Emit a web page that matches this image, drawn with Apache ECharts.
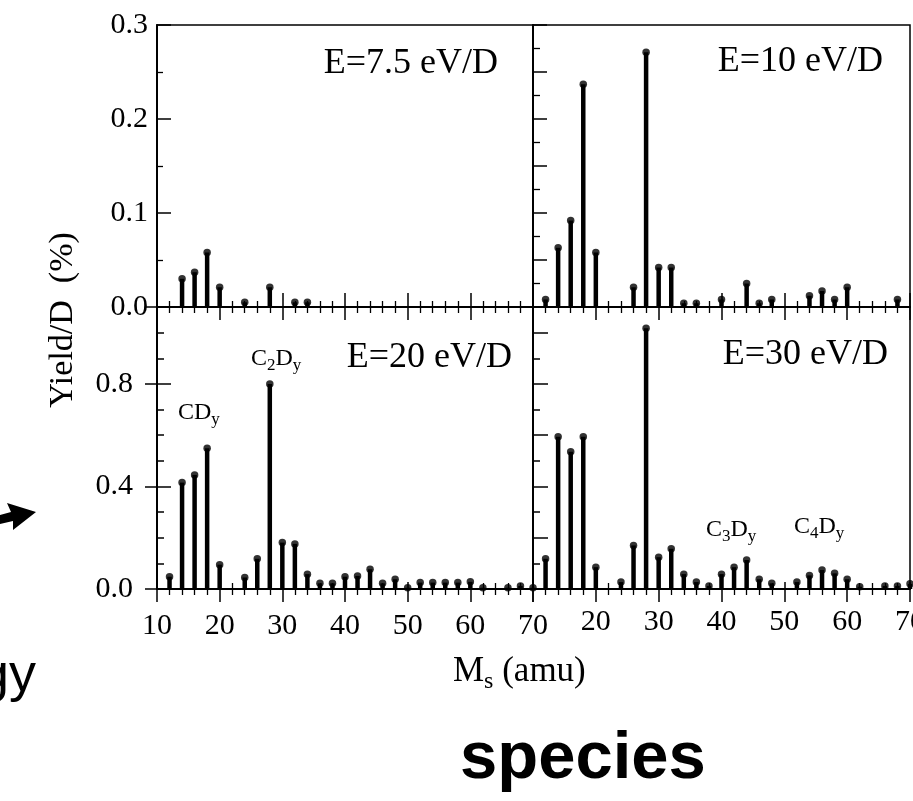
<!DOCTYPE html>
<html>
<head>
<meta charset="utf-8">
<script src="https://cdn.jsdelivr.net/npm/echarts@6/dist/echarts.min.js"></script>
<style>
html, body { margin: 0; padding: 0; background: #fff; }
#chart { width: 913px; height: 801px; }
</style>
</head>
<body>
<div id="chart"></div>
<script>
// mass of sputtered species (amu) and yield per D (%), one pair per panel
var massTL = [14, 16, 18, 20, 24, 28, 32, 34];
var yieldTL = [0.030, 0.037, 0.058, 0.021, 0.005, 0.021, 0.005, 0.005];

var massTR = [12, 14, 16, 18, 20, 26, 28, 30, 32, 34, 36, 40, 44, 46, 48, 54, 56, 58, 60, 68];
var yieldTR = [0.008, 0.063, 0.092, 0.237, 0.058, 0.021, 0.271, 0.042, 0.042, 0.004,
  0.004, 0.008, 0.025, 0.004, 0.008, 0.012, 0.017, 0.008, 0.021, 0.008];

var massBL = [12, 14, 16, 18, 20, 24, 26, 28, 30, 32, 34, 36, 38, 40, 42, 44, 46, 48, 50,
  52, 54, 56, 58, 60, 62, 66, 68, 70];
var yieldBL = [0.048, 0.415, 0.445, 0.549, 0.095, 0.045, 0.118, 0.800, 0.181, 0.176, 0.058,
  0.022, 0.022, 0.048, 0.051, 0.077, 0.022, 0.038, 0.005, 0.025, 0.025, 0.025, 0.025,
  0.028, 0.005, 0.005, 0.012, 0.005];

var massBR = [12, 14, 16, 18, 20, 24, 26, 28, 30, 32, 34, 36, 38, 40, 42, 44, 46, 48, 52,
  54, 56, 58, 60, 62, 66, 68, 70];
var yieldBR = [0.118, 0.594, 0.535, 0.594, 0.085, 0.027, 0.170, 1.017, 0.124, 0.157, 0.058,
  0.027, 0.012, 0.058, 0.085, 0.113, 0.038, 0.022, 0.027, 0.053, 0.074, 0.061, 0.038,
  0.009, 0.012, 0.012, 0.020];

// tick labels
var xTickLabels = [10, 20, 30, 40, 50, 60, 70];
var yTickLabelsTop = [0.0, 0.1, 0.2, 0.3];
var yTickLabelsBottom = [0.0, 0.4, 0.8];

var panelTitles = ['E=7.5 eV/D', 'E=10 eV/D', 'E=20 eV/D', 'E=30 eV/D'];

var SERIF = 'Liberation Serif';
var SANS = 'Liberation Sans';

var panels = [
  { left: 157, top: 25, width: 376, height: 282, mass: massTL, val: yieldTL },
  { left: 533, top: 25, width: 377, height: 282, mass: massTR, val: yieldTR },
  { left: 157, top: 307, width: 376, height: 282, mass: massBL, val: yieldBL },
  { left: 533, top: 307, width: 377, height: 282, mass: massBR, val: yieldBR }
];

function inList (list, v) {
  for (var i = 0; i < list.length; i++) {
    if (Math.abs(list[i] - v) < 1e-6) return true;
  }
  return false;
}

var black = { color: '#000' };

//x axes: one with outer ticks + labels, one with inner ticks
function makeXAxes (gi, showLabels, margin, hideFirst, innerLen) {
  return [{
    type: 'value', gridIndex: gi, position: 'bottom', min: 10, max: 70, interval: 10,
    axisLine: { show: true, onZero: false, lineStyle: { color: '#000', width: 2 } },
    axisTick: { show: true, inside: false, length: 13, lineStyle: { color: '#000', width: 1.5 } },
    minorTick: { show: true, splitNumber: 5, length: 6, lineStyle: { color: '#000', width: 1.3 } },
    splitLine: { show: false },
    axisLabel: {
      show: showLabels, margin: margin, fontFamily: SERIF, fontSize: 30, color: '#000',
      formatter: function (v) {
        if (hideFirst && v === 10) return '';
        return inList(xTickLabels, v) ? String(v) : '';
      }
    }
  }, {
    type: 'value', gridIndex: gi, position: 'bottom', min: 10, max: 70, interval: 10,
    axisLine: { show: false },
    axisTick: { show: true, inside: true, length: innerLen, lineStyle: { color: '#000', width: 1.5 } },
    minorTick: { show: true, splitNumber: 5, length: 6, lineStyle: { color: '#000', width: 1.3 } },
    splitLine: { show: false },
    axisLabel: { show: false }
  }];
}

var xAxes = []
  .concat(makeXAxes(0, false, 20, false, 14))
  .concat(makeXAxes(1, false, 20, true, 14))
  .concat(makeXAxes(2, true, 22, false, 7))
  .concat(makeXAxes(3, true, 18, true, 7));

//y axes
function yAx (gi, max, interval, opt) {
  return {
    type: 'value', gridIndex: gi, position: 'left', min: 0, max: max, interval: interval,
    axisLine: { show: opt.line, onZero: false, lineStyle: { color: '#000', width: 2 } },
    axisTick: { show: true, inside: opt.inside, length: opt.len, lineStyle: { color: '#000', width: 1.5 } },
    minorTick: opt.minor ? { show: true, splitNumber: opt.minor, length: opt.minorLen, lineStyle: { color: '#000', width: 1.3 } } : { show: false },
    splitLine: { show: false },
    axisLabel: opt.labels ? {
      show: true, margin: opt.margin, fontFamily: SERIF, fontSize: 30, color: '#000',
      padding: [6, 0, 0, 0],
      formatter: function (v) { return inList(opt.labels, v) ? v.toFixed(1) : ''; }
    } : { show: false }
  };
}

var yAxes = [
  // 0: top-left
  yAx(0, 0.3, 0.1, { line: true, inside: true, len: 14, minor: 2, minorLen: 6, labels: yTickLabelsTop, margin: 9 }),
  // 1: top-right
  yAx(1, 0.3, 0.05, { line: true, inside: true, len: 14, minor: 2, minorLen: 7 }),
  // 2: bottom-left
  yAx(2, 1.1, 0.1, { line: true, inside: true, len: 7, labels: yTickLabelsBottom, margin: 24 }),
  yAx(2, 1.1, 0.4, { line: false, inside: false, len: 12 }),
  yAx(2, 1.1, 0.4, { line: false, inside: true, len: 14 }),
  // 5: bottom-right
  yAx(3, 1.1, 0.1, { line: true, inside: true, len: 7 }),
  yAx(3, 1.1, 0.2, { line: false, inside: true, len: 15 })
];
var mainY = [0, 1, 2, 5];

var series = [];
panels.forEach(function (p, gi) {
  var pts = p.mass.map(function (m, i) { return [m, p.val[i]]; });
  series.push({
    type: 'bar', xAxisIndex: gi * 2, yAxisIndex: mainY[gi],
    data: pts, barWidth: 4.5, itemStyle: black, silent: true
  });
  series.push({
    type: 'scatter', xAxisIndex: gi * 2, yAxisIndex: mainY[gi],
    data: pts, symbol: 'circle', symbolSize: 7.5, itemStyle: black, silent: true
  });
});

function txt (x, y, text, size, align, extra) {
  var st = { text: text, fontFamily: SERIF, fontSize: size, fill: '#000', align: align, verticalAlign: 'middle' };
  for (var k in extra) st[k] = extra[k];
  return { type: 'text', x: x, y: y, style: st, silent: true, z: 10 };
}

var chemRich = {
  m: { fontFamily: SERIF, fontSize: 24, height: 24, lineHeight: 27, verticalAlign: 'top' },
  s: { fontFamily: SERIF, fontSize: 17, height: 17, lineHeight: 27, verticalAlign: 'bottom' }
};
function chem (x, yCenter, text) {
  return {
    type: 'text', x: x, y: yCenter - 12, silent: true, z: 10,
    style: { text: text, fill: '#000', align: 'left', verticalAlign: 'top', rich: chemRich }
  };
}

var graphics = [
  txt(498, 64, panelTitles[0], 36, 'right'),
  txt(883, 62, panelTitles[1], 36, 'right'),
  txt(512, 358, panelTitles[2], 36, 'right'),
  txt(888, 355, panelTitles[3], 36, 'right'),
  chem(178, 413, '{m|CD}{s|y}'),
  chem(251, 359, '{m|C}{s|2}{m|D}{s|y}'),
  chem(706, 530, '{m|C}{s|3}{m|D}{s|y}'),
  chem(794, 527, '{m|C}{s|4}{m|D}{s|y}'),
  // axis titles
  {
    type: 'text', x: 63, y: 320, rotation: Math.PI / 2, silent: true,
    style: { text: 'Yield/D  (%)', fontFamily: SERIF, fontSize: 34, fill: '#000', align: 'center', verticalAlign: 'middle' }
  },
  {
    type: 'text', x: 453, y: 654, silent: true,
    style: {
      text: '{m|M}{s|s}{m| (amu)}', fill: '#000', align: 'left', verticalAlign: 'top',
      rich: {
        m: { fontFamily: SERIF, fontSize: 35, height: 35, lineHeight: 40, verticalAlign: 'top' },
        s: { fontFamily: SERIF, fontSize: 24, height: 24, lineHeight: 40, verticalAlign: 'bottom' }
      }
    }
  },
  // cropped slide text around the figure
  txt(460, 760, 'species', 67, 'left', { fontFamily: SANS, fontWeight: 'bold' }),
  txt(36, 676, 'energy', 54, 'right', { fontFamily: SANS }),
  {
    type: 'polygon', silent: true,
    shape: { points: [[0, 515], [11, 512], [7, 503], [36, 512], [13, 530], [13, 521], [0, 524]] },
    style: { fill: '#000' }
  }
];

var option = {
  animation: false,
  backgroundColor: '#fff',
  grid: panels.map(function (p) {
    return {
      left: p.left, top: p.top, width: p.width, height: p.height,
      show: true, borderColor: '#000', borderWidth: 1.5, backgroundColor: 'transparent',
      containLabel: false, outerBoundsMode: 'none'
    };
  }),
  xAxis: xAxes,
  yAxis: yAxes,
  series: series,
  graphic: graphics
};

var myChart = echarts.init(document.getElementById('chart'), null, { renderer: 'canvas' });
myChart.setOption(option);
</script>
</body>
</html>
